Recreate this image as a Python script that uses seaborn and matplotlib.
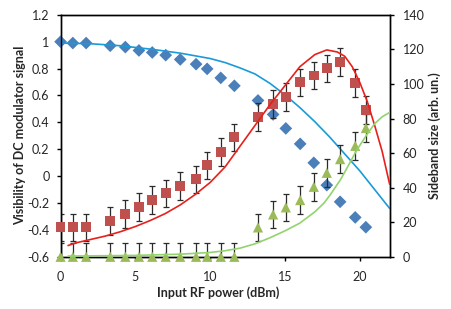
import numpy as np
import pandas as pd
import matplotlib
matplotlib.use("Agg")
import matplotlib.pyplot as plt
import seaborn as sns

# =========================
# DATA
# =========================

power = [0, 0.82, 1.71, 3.32, 4.33, 5.24, 6.13, 7.03, 8.0, 9.06, 9.8,
         10.71, 11.62, 13.2, 14.21, 15.06, 16.02, 16.93, 17.8, 18.69, 19.7, 20.41]

visibility = [1.0, 0.99, 0.99, 0.97, 0.96, 0.935, 0.92, 0.9, 0.868, 0.833, 0.798,
              0.731, 0.672, 0.563, 0.459, 0.355, 0.24, 0.099, -0.067, -0.191, -0.307, -0.38]

sideband_1 = [17, 17, 17, 20.8, 24.9, 28.9, 33, 36.7, 41.1, 44.8, 52.9,
              60.5, 69.1, 80.8, 88.3, 92.6, 100.9, 104.9, 109, 112.6, 100.7, 84.9]

sideband_2 = [0, 0, 0, 0, 0, 0, 0, 0, 0, 0, 0,
              0, 0, 17, 24.5, 28.6, 32.8, 40.5, 48.6, 56.5, 64.2, 74.5]

err_1 = 8
err_2 = 8

# model curves
fit_vis_x = [0, 2, 4, 6, 8, 10, 11, 12, 13, 14, 15, 16, 17, 18, 19, 20, 21, 22]
fit_vis_y = [0.99, 0.985, 0.97, 0.945, 0.915, 0.875, 0.845, 0.805, 0.76, 0.69,
             0.605, 0.51, 0.405, 0.29, 0.165, 0.04, -0.1, -0.24]

fit_sb1_x = [0.5, 1, 2, 3, 4, 5, 6, 7, 8, 9, 10, 11, 12, 13, 14, 15, 16, 17,
             17.8, 18.5, 19, 19.5, 20, 20.5, 21, 21.5, 22]
fit_sb1_y = [6.5, 8, 10, 12, 14.5, 17.5, 21, 25, 30, 36, 43, 52, 64, 76, 88, 99,
             110, 117, 119.7, 118.5, 116, 110, 101, 90, 76, 61, 42]

fit_sb2_x = [0.5, 5, 8, 10, 11, 12, 13, 14, 15, 16, 17, 17.6, 18, 18.7, 19,
             19.8, 20.5, 21, 21.5, 22]
fit_sb2_y = [0.4, 0.8, 1.5, 2.5, 3.5, 5, 7.5, 11, 15, 19.5, 26, 31, 35.5, 44.4,
             49, 61.7, 71, 77, 81, 83.5]

vis_ticks = [-0.6, -0.4, -0.2, 0, 0.2, 0.4, 0.6, 0.8, 1, 1.2]
vis_labels = ["-0.6", "-0.4", "-0.2", "0", "0.2", "0.4", "0.6", "0.8", "1", "1.2"]
sb_ticks = [0, 20, 40, 60, 80, 100, 120, 140]
x_ticks = [0, 5, 10, 15, 20]

# =========================
# STYLE
# =========================

sns.set_style("ticks")
plt.rcParams["font.family"] = ["Lato", "DejaVu Sans"]
FS = 9

c_blue_pt = "#4a7fba"
c_red_pt = "#c0504d"
c_green_pt = "#9bbb59"
c_blue_ln = "#1a9bd7"
c_red_ln = "#e8201c"
c_green_ln = "#92d36e"
c_err = "#2b2b2b"

fig = plt.figure(figsize=(4.52, 3.09), dpi=100)
ax = fig.add_axes([0.134, 0.169, 0.728, 0.783])
ax2 = ax.twinx()

# =========================
# LEFT AXIS: visibility
# =========================

sns.scatterplot(x=power, y=visibility, ax=ax, marker="D", s=42,
                color=c_blue_pt, edgecolor="none", zorder=3, clip_on=False)
sns.lineplot(x=fit_vis_x, y=fit_vis_y, ax=ax, color=c_blue_ln, lw=1.2,
             zorder=4, estimator=None, sort=False)

# =========================
# RIGHT AXIS: sideband size
# =========================

ax2.errorbar(power, sideband_1, yerr=err_1, fmt="none", ecolor=c_err,
             elinewidth=0.9, capsize=2, capthick=0.9, zorder=2)
ax2.errorbar(power, sideband_2, yerr=err_2, fmt="none", ecolor=c_err,
             elinewidth=0.9, capsize=2, capthick=0.9, zorder=2)

sns.scatterplot(x=power, y=sideband_1, ax=ax2, marker="s", s=50,
                color=c_red_pt, edgecolor="none", zorder=3, clip_on=False)
sns.scatterplot(x=power, y=sideband_2, ax=ax2, marker="^", s=54,
                color=c_green_pt, edgecolor="none", zorder=3, clip_on=False)

sns.lineplot(x=fit_sb1_x, y=fit_sb1_y, ax=ax2, color=c_red_ln, lw=1.2,
             zorder=4, estimator=None, sort=False)
sns.lineplot(x=fit_sb2_x, y=fit_sb2_y, ax=ax2, color=c_green_ln, lw=1.2,
             zorder=4, estimator=None, sort=False)

# =========================
# AXES
# =========================

ax.set_xlim(0, 22)
ax.set_ylim(-0.6, 1.2)
ax2.set_ylim(0, 140)

ax.set_xticks(x_ticks)
ax.set_xticklabels([str(t) for t in x_ticks])
ax.set_yticks(vis_ticks)
ax.set_yticklabels(vis_labels)
ax2.set_yticks(sb_ticks)
ax2.set_yticklabels([str(t) for t in sb_ticks])

for a in (ax, ax2):
    for s in a.spines.values():
        s.set_visible(True)
        s.set_color("black")
        s.set_linewidth(1.0)
    a.tick_params(length=3, width=1.0, color="black", labelsize=FS)

ax.tick_params(axis="x", pad=7)
ax.tick_params(axis="y", pad=5)
ax2.tick_params(axis="y", pad=6.5)

ax.set_xlabel("Input RF power (dBm)", fontweight="bold", fontsize=FS, va="center")
ax.set_ylabel("Visibility of DC modulator signal", fontweight="bold", fontsize=FS, va="center")
ax2.set_ylabel("Sideband size (arb. un.)", fontweight="bold", fontsize=FS, va="center")
ax.xaxis.set_label_coords(0.48, -0.15)
ax.yaxis.set_label_coords(-0.124, 0.5)
ax2.yaxis.set_label_coords(1.138, 0.5)

fig.savefig("out.png", dpi=100)
